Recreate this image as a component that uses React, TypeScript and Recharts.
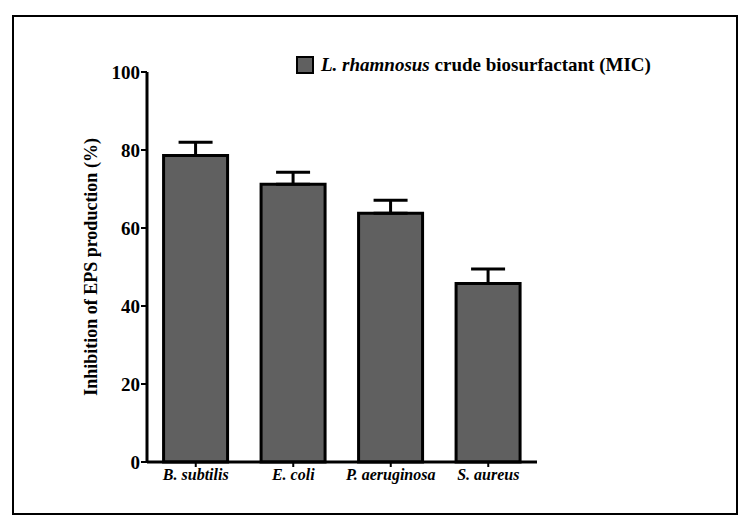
import React from "react";
import {
  BarChart,
  Bar,
  XAxis,
  YAxis,
  ErrorBar,
  Label,
} from "recharts";

const organisms = ["B. subtilis", "E. coli", "P. aeruginosa", "S. aureus"];
const inhibition = [78.6, 71.2, 63.8, 45.8];
const errUpper = [3.4, 3.1, 3.3, 3.7];
const yTicks = [0, 20, 40, 60, 80, 100];
const seriesName = "crude biosurfactant (MIC)";

const data = organisms.map((name, i) => ({
  name,
  value: inhibition[i],
  err: [0, errUpper[i]],
}));

const FONT = '"Liberation Serif", "Times New Roman", serif';

function LegendBox() {
  return (
    <div
      style={{
        position: "absolute",
        left: 296,
        top: 54,
        display: "flex",
        alignItems: "center",
        fontFamily: FONT,
        fontWeight: 700,
        fontSize: 19,
        color: "#000",
        whiteSpace: "nowrap",
      }}
    >
      <span
        style={{
          display: "inline-block",
          width: 14,
          height: 14,
          background: "#606060",
          border: "2px solid #000",
          marginRight: 7,
        }}
      />
      <span>
        <i>L. rhamnosus</i> {seriesName}
      </span>
    </div>
  );
}

export default function App() {
  return (
    <div
      style={{
        position: "absolute",
        left: 0,
        top: 0,
        width: 750,
        height: 530,
        background: "#fff",
      }}
    >
      <div
        style={{
          position: "absolute",
          left: 12,
          top: 15,
          width: 722,
          height: 496,
          border: "2px solid #000",
        }}
      />
      <div style={{ position: "absolute", left: 0, top: 0 }}>
        <BarChart
          width={750}
          height={530}
          data={data}
          margin={{ top: 72, right: 213, bottom: 38, left: 77 }}
          barCategoryGap="17%"
        >
          <XAxis
            dataKey="name"
            height={30}
            axisLine={{ stroke: "#000", strokeWidth: 3 }}
            tickLine={{ stroke: "#000", strokeWidth: 2 }}
            tickSize={5}
            tick={{
              fill: "#000",
              fontFamily: FONT,
              fontWeight: 700,
              fontStyle: "italic",
              fontSize: 16,
            }}
          />
          <YAxis
            width={70}
            domain={[0, 100]}
            ticks={yTicks}
            interval={0}
            axisLine={{ stroke: "#000", strokeWidth: 3 }}
            tickLine={{ stroke: "#000", strokeWidth: 2 }}
            tickSize={6}
            tickMargin={1}
            tick={{
              fill: "#000",
              fontFamily: FONT,
              fontWeight: 700,
              fontSize: 19,
            }}
          >
            <Label
              value="Inhibition of EPS production (%)"
              angle={-90}
              position="insideLeft"
              offset={14}
              style={{
                textAnchor: "middle",
                fill: "#000",
                fontFamily: FONT,
                fontWeight: 700,
                fontSize: 18,
              }}
            />
          </YAxis>
          <Bar
            dataKey="value"
            name={seriesName}
            fill="#606060"
            stroke="#000"
            strokeWidth={3}
            isAnimationActive={false}
          >
            <ErrorBar
              dataKey="err"
              width={17}
              stroke="#000"
              strokeWidth={3}
              direction="y"
            />
          </Bar>
        </BarChart>
      </div>
      <LegendBox />
    </div>
  );
}
